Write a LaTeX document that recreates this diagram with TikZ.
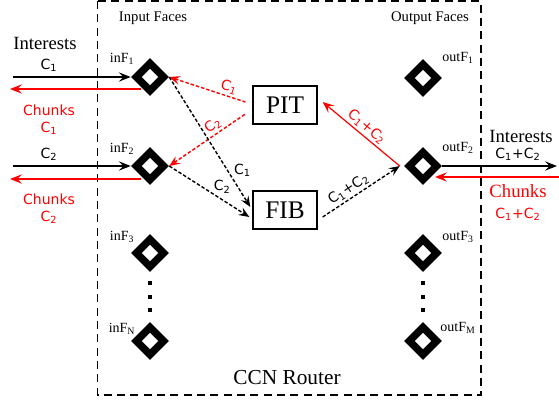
\documentclass[tikz,border=0pt]{standalone}
\usepackage{fontspec}
\setmainfont{Liberation Serif}
\newfontfamily\sansf{DejaVu Sans}
\usetikzlibrary{shapes.geometric,arrows.meta,calc}
\begin{document}
\begin{tikzpicture}[x=0.75pt,y=-0.75pt,
  face/.style={diamond,fill=black,minimum size=28.5pt,inner sep=0pt,aspect=1},
  facehole/.style={diamond,fill=white,minimum size=12.5pt,inner sep=0pt,aspect=1},
  tablebox/.style={draw,line width=1pt,minimum width=48pt,minimum height=28.5pt,inner sep=0pt,font=\fontsize{19}{20}\selectfont},
  flab/.style={font=\fontsize{10.5}{12}\selectfont,anchor=base},
  big/.style={font=\fontsize{14}{16}\selectfont,anchor=base},
  slab/.style={font=\sansf\fontsize{10.5}{12}\selectfont},
  sbase/.style={slab,anchor=base},
  arr/.style={line width=1.1pt,-{Stealth[length=9pt,width=7pt,inset=3.5pt]}},
  arrL/.style={line width=0.9pt,{Stealth[length=8.5pt,width=7pt,inset=3.5pt]}-},
  darr/.style={line width=1.05pt,dash pattern=on 2.6pt off 1.5pt,-{Stealth[length=8pt,width=6.5pt,inset=3pt]}},
  darrL/.style={line width=1.05pt,dash pattern=on 2.6pt off 1.5pt,{Stealth[length=8pt,width=6.5pt,inset=3pt]}-},
  dotsq/.style={fill=black},
]
\useasboundingbox (0,0) rectangle (559,404);
% router box
\draw[line width=1.2pt,dash pattern=on 6pt off 4pt] (97.5,1) rectangle (481,395);
\node[font=\fontsize{16}{18}\selectfont,anchor=base] (ccn) at (287,384) {CCN Router};
\node[font=\fontsize{11}{12}\selectfont] (inlab) at (153,18) {Input Faces};
\node[font=\fontsize{11}{12}\selectfont] (outlab) at (430,18) {Output Faces};

% faces
\foreach \n/\x/\y in {inF1/150/77, inF2/150/166, inF3/150/253, inFN/150/341,
                      outF1/423/78, outF2/423/166, outF3/423/253, outFM/423/341}{
  \node[face] (\n) at (\x,\y) {};
  \node[facehole] (\n h) at (\n) {};
}
\foreach \x in {150,423}{
  \foreach \y in {283,297,310}{
    \fill[dotsq] (\x-2,\y-2) rectangle (\x+2,\y+2);
  }
}
\node[flab] (l1) at (122,62) {inF\textsubscript{1}};
\node[flab] (l2) at (122,152) {inF\textsubscript{2}};
\node[flab] (l3) at (122,240) {inF\textsubscript{3}};
\node[flab] (l4) at (122,332) {inF\textsubscript{N}};
\node[flab] (r1) at (458,61) {outF\textsubscript{1}};
\node[flab] (r2) at (458,151) {outF\textsubscript{2}};
\node[flab] (r3) at (458,240) {outF\textsubscript{3}};
\node[flab] (r4) at (458,331) {outF\textsubscript{M}};

% tables
\node[tablebox] (PIT) at (285,105) {PIT};
\node[tablebox] (FIB) at (285,210) {FIB};

% left side
\coordinate (L1) at (13,77);
\coordinate (L1r) at (10,89);
\coordinate (L2) at (13,166);
\coordinate (L2r) at (10,179);
\draw[arr] (L1) -- (inF1.west);
\draw[arr,red] ($(inF1)+(-9,12)$) -- (L1r);
\draw[arr] (L2) -- (inF2.west);
\draw[arr,red] ($(inF2)+(-9,13)$) -- (L2r);
\node[big] (t1) at (45,49) {Interests};
\node[sbase] (t2) at (49,69) {C\textsubscript{1}};
\node[sbase,red] (t3) at (49,115) {Chunks};
\node[sbase,red] (t4) at (49,132) {C\textsubscript{1}};
\node[sbase] (t5) at (49,158) {C\textsubscript{2}};
\node[sbase,red] (t6) at (49,204) {Chunks};
\node[sbase,red] (t7) at (49,221) {C\textsubscript{2}};

% right side
\coordinate (R1) at (557,166);
\coordinate (R1r) at (559,177);
\draw[arr] (outF2.east) -- (R1);
\draw[arr,red] (R1r) -- ($(outF2)+(12,11)$);
\node[big] (u1) at (521,142) {Interests};
\node[sbase] (u2) at (518,158) {C\textsubscript{1}+C\textsubscript{2}};
\node[big,red] (u3) at (518,197) {Chunks};
\node[sbase,red] (u4) at (518,218) {C\textsubscript{1}+C\textsubscript{2}};

% inner connectors
\draw[darrL,red] (inF1.east) -- node[slab,red,sloped,above,pos=0.75,inner sep=1.5pt] {C\textsubscript{1}} ($(PIT.west)+(-7,-3)$);
\draw[darrL,red] (inF2.east) -- node[slab,red,sloped,above,pos=0.64,inner sep=1.5pt] {C\textsubscript{2}} ($(PIT.west)+(-7,9)$);
\draw[darr] (inF1.east) -- node[slab,pos=0.72,right=1pt] {C\textsubscript{1}} ($(FIB.west)+(-2,-3)$);
\draw[darr] (inF2.east) -- node[slab,pos=0.66,above=1pt] {C\textsubscript{2}} ($(FIB.west)+(-3,7)$);
\draw[darr] ($(FIB.east)+(5,7)$) -- node[slab,sloped,above,pos=0.4,inner sep=1.5pt] {C\textsubscript{1}+C\textsubscript{2}} ($(outF2.west)+(-4,0)$);
\draw[arrL,red] ($(PIT.east)+(5,-3)$) -- node[slab,red,sloped,above,pos=0.5,inner sep=1.5pt] {C\textsubscript{1}+C\textsubscript{2}} ($(outF2.west)+(-4,0)$);
\end{tikzpicture}
\end{document}
